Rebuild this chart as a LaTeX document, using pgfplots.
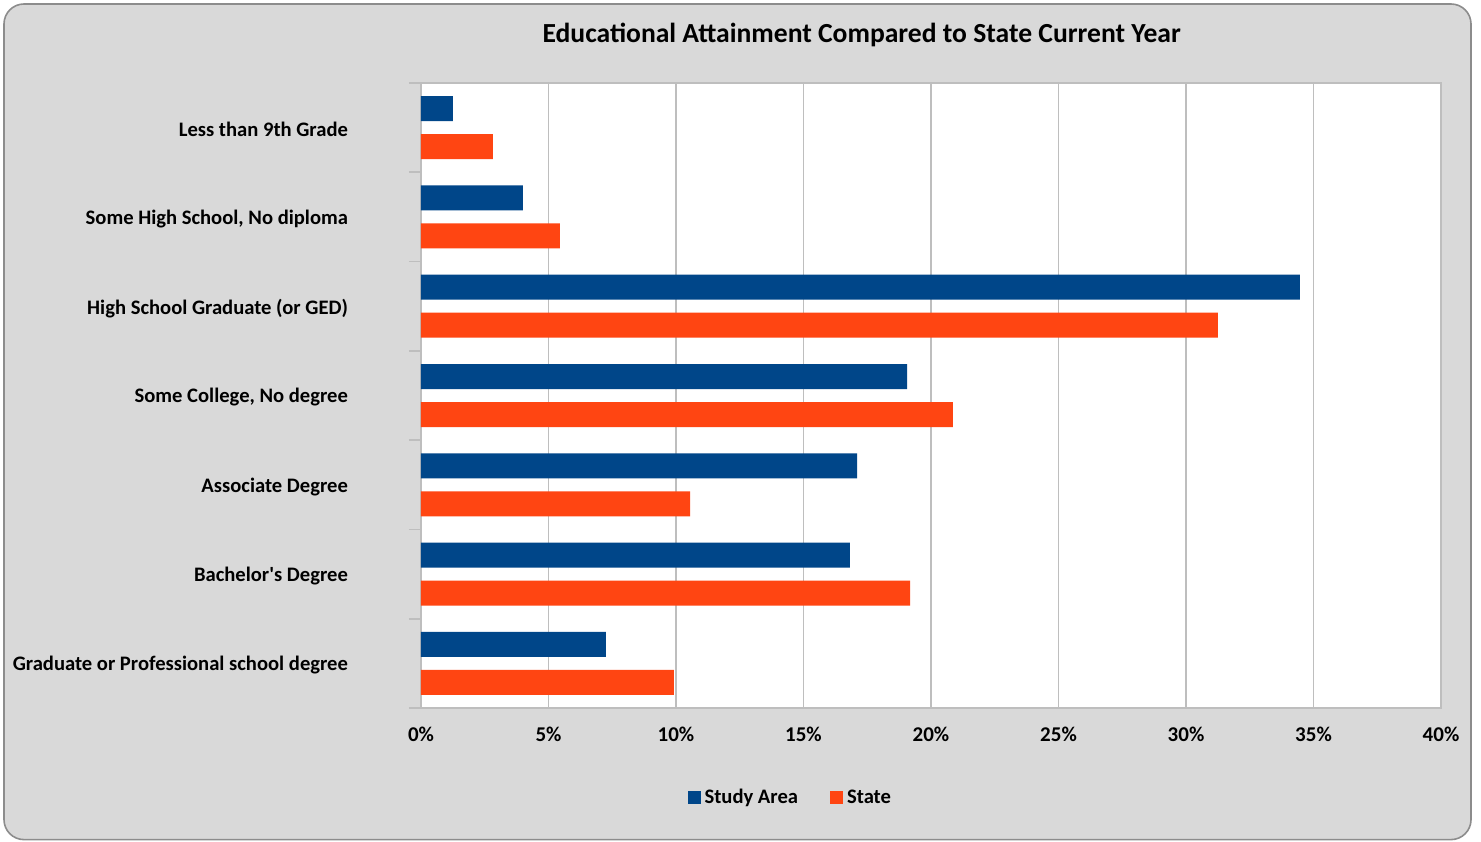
\documentclass[border=0pt]{standalone}
\usepackage{pgfplots}
\pgfplotsset{compat=1.18}
\usepackage{fontspec}
\setmainfont{Carlito}
\definecolor{studyblue}{RGB}{0,70,137}
\definecolor{stateorange}{RGB}{255,69,18}
\definecolor{panelgray}{RGB}{217,217,217}
\definecolor{gridgray}{RGB}{190,190,190}
\definecolor{framegray}{RGB}{140,140,140}
\begin{document}
\begin{tikzpicture}
\useasboundingbox (-210.5pt,-66.5pt) rectangle (530pt,354pt);
\fill[panelgray, draw=framegray, line width=0.8pt, rounded corners=10pt] (-208.5pt,-65.8pt) rectangle (525pt,352pt);
\begin{axis}[
    scale only axis,
    width=510pt, height=312.5pt,
    xbar, bar width=12.5pt,
    xmin=0, xmax=40, ymin=-0.5, ymax=6.5,
    axis background/.style={fill=white},
    axis line style={gridgray, line width=1pt},
    xtick={0,5,...,40},
    xmajorgrids,
    grid style={gridgray, line width=0.6pt},
    major tick length=0pt,
    minor tick length=6pt,
    tick align=outside,
    ytick pos=left, xtick pos=bottom,
    minor tick style={gridgray, line width=0.8pt},
    minor ytick={-0.5,0.5,...,6.5},
    ytick={0,...,6},
    yticklabels={Graduate or Professional school degree, Bachelor\textquotesingle s Degree, Associate Degree, {Some College, No degree}, High School Graduate (or GED), {Some High School, No diploma}, Less than 9th Grade},
    yticklabel style={font=\bfseries\fontsize{10.3}{12}\selectfont, anchor=east, xshift=-33pt, yshift=-1pt},
    /pgf/number format/assume math mode=true,
    xticklabel={\pgfmathprintnumber{\tick}\%},
    xticklabel style={font=\bfseries\fontsize{10.5}{12}\selectfont, yshift=-6pt},
    every axis title shift=0pt,
    title={\bfseries Educational Attainment Compared to State Current Year},
    title style={font=\fontsize{13.8}{16}\selectfont, at={(0.432,1.077)}, anchor=center},
    legend style={at={(0.363,-0.144)}, anchor=center, draw=none, fill=none,
        legend columns=2, font=\bfseries\fontsize{10.3}{12}\selectfont,
        /tikz/every even column/.append style={column sep=14pt}},
    legend image code/.code={\fill[#1] (0pt,-3.2pt) rectangle (6.5pt,3.3pt);},
]
\addplot[fill=studyblue, draw=none, bar shift=9.5pt] coordinates {
    (7.25,0) (16.82,1) (17.1,2) (19.06,3) (34.47,4) (4.0,5) (1.25,6)
};
\addlegendentry{Study Area}
\addplot[fill=stateorange, draw=none, bar shift=-9.5pt] coordinates {
    (9.92,0) (19.18,1) (10.55,2) (20.86,3) (31.25,4) (5.45,5) (2.82,6)
};
\addlegendentry{State}
\end{axis}
\end{tikzpicture}
\end{document}
